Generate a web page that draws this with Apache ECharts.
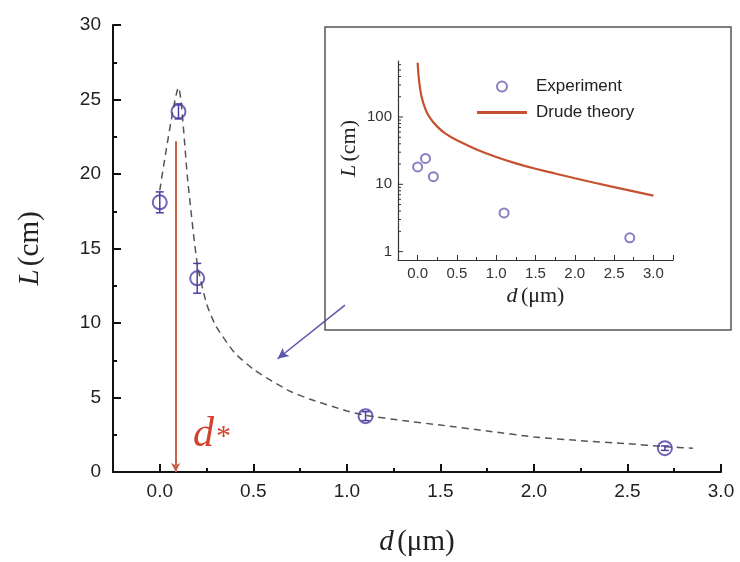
<!DOCTYPE html>
<html><head><meta charset="utf-8">
<script src="https://cdn.jsdelivr.net/npm/echarts@6/dist/echarts.min.js"></script>
<style>html,body{margin:0;padding:0;background:#fff}#c{width:740px;height:562px}</style>
</head><body><div id="c"></div>
<script>
// ---- data ----
const expD   = [0.0, 0.1, 0.2, 1.1, 2.7];
const expL   = [18.1, 24.2, 13.0, 3.75, 1.6];
const expErr = [0.7, 0.5, 1.0, 0.3, 0.15];

const fitD = [0.0, 0.1, 0.15, 0.2, 0.25, 0.3, 0.4, 0.5, 0.6, 0.7, 0.8, 1.0, 1.1, 1.3, 1.5, 1.75, 2.0, 2.25, 2.5, 2.7, 2.85];
const fitL = [18.9, 25.8, 19.5, 14.0, 11.3, 9.8, 8.0, 6.9, 6.1, 5.4, 4.9, 4.1, 3.8, 3.45, 3.15, 2.75, 2.35, 2.1, 1.9, 1.7, 1.6];

const drudeD = [0.0, 0.02, 0.05, 0.1, 0.15, 0.25, 0.35, 0.5, 0.75, 1.0, 1.25, 1.5, 1.75, 2.0, 2.5, 3.0];
const drudeL = [640, 330, 200, 130, 100, 72, 57, 45, 33, 25.5, 20.5, 17, 14.5, 12.3, 9.1, 6.8];

const dStar = 0.085, dStarTop = 22.2;
const pointerFrom = [0.99, 11.2], pointerTo = [0.63, 7.6];

const logMajor = [1, 10, 100];
const logMinor = [2,3,4,5,6,7,8,9,20,30,40,50,60,70,80,90,200,300,400,500,600];

const purple = '#4a3fa0';
const red = '#c5512f';
const serif = 'Liberation Serif';
const sans = 'Liberation Sans';

function errRender(params, api) {
  const x = api.value(0), lo = api.value(1), hi = api.value(2);
  const a = api.coord([x, hi]), b = api.coord([x, lo]);
  const w = 4;
  const st = {stroke: purple, lineWidth: 1.5};
  return {type: 'group', children: [
    {type: 'line', shape: {x1: a[0], y1: a[1], x2: b[0], y2: b[1]}, style: st},
    {type: 'line', shape: {x1: a[0]-w, y1: a[1], x2: a[0]+w, y2: a[1]}, style: st},
    {type: 'line', shape: {x1: b[0]-w, y1: b[1], x2: b[0]+w, y2: b[1]}, style: st}
  ]};
}
function logTickRender(len) {
  return function (params, api) {
    const p = api.coord([-0.25, api.value(1)]);
    return {type: 'line', shape: {x1: p[0], y1: p[1], x2: p[0] + len, y2: p[1]}, style: {stroke: '#333', lineWidth: 1}};
  };
}

const chart = echarts.init(document.getElementById('c'));
chart.setOption({
  backgroundColor: '#fff',
  animation: false,
  graphic: [
    {type: 'rect', shape: {x: 325, y: 27, width: 406, height: 303}, style: {fill: 'transparent', stroke: '#555', lineWidth: 1.5}, z: 0},
    {type: 'text', left: 193, top: 414, style: {text: 'd', font: 'italic 42px "Liberation Serif"', fill: '#d2432f'}},
    {type: 'text', left: 216, top: 422, style: {text: '*', font: '30px "Liberation Serif"', fill: '#d2432f'}}
  ],
  legend: {
    orient: 'vertical', left: 472, top: 73, itemWidth: 50, itemHeight: 10, itemGap: 9,
    data: [{name: 'Experiment'}, {name: 'Drude theory', icon: 'path://M0,0H50V3H0Z', itemStyle: {color: red}}],
    textStyle: {fontFamily: sans, fontSize: 17, color: '#222', padding: [0, 0, 0, 4]}
  },
  grid: [
    {left: 113, top: 25, right: 19, bottom: 87},
    {left: 398, top: 61, width: 275, bottom: 302}
  ],
  xAxis: [
    {gridIndex: 0, type: 'value', position: 'bottom', min: -0.25, max: 3.0, interval: 0.25,
     axisLine: {onZero: false, lineStyle: {color: '#111', width: 2}},
     axisTick: {inside: true, length: 4, lineStyle: {color: '#111', width: 2}},
     axisLabel: {margin: 10, fontFamily: sans, fontSize: 19, color: '#222',
       formatter: v => (Math.abs(v * 2 - Math.round(v * 2)) < 1e-6 && v >= 0) ? v.toFixed(1) : ''},
     splitLine: {show: false},
     name: '{i|d} {n|(μm)}', nameLocation: 'middle', nameGap: 56,
     nameTextStyle: {rich: {i: {fontFamily: serif, fontStyle: 'italic', fontSize: 29, color: '#222'}, n: {fontFamily: serif, fontSize: 29, color: '#222'}}}},
    {gridIndex: 1, type: 'value', position: 'bottom', min: -0.25, max: 3.25, interval: 0.25,
     axisLine: {onZero: false, lineStyle: {color: '#333', width: 1.2}},
     axisTick: {inside: true, length: 3, lineStyle: {color: '#333'}},
     axisLabel: {margin: 6, fontFamily: sans, fontSize: 15, color: '#333',
       formatter: v => (Math.abs(v * 2 - Math.round(v * 2)) < 1e-6 && v >= 0 && v <= 3) ? v.toFixed(1) : ''},
     splitLine: {show: false},
     name: '{i|d} {n|(μm)}', nameLocation: 'middle', nameGap: 25,
     nameTextStyle: {rich: {i: {fontFamily: serif, fontStyle: 'italic', fontSize: 22, color: '#222'}, n: {fontFamily: serif, fontSize: 22, color: '#222'}}}},
    {gridIndex: 0, type: 'value', position: 'bottom', min: -0.25, max: 3.0, splitNumber: 7,
     axisLine: {show: false, onZero: false}, axisLabel: {show: false}, splitLine: {show: false},
     axisTick: {inside: true, length: 8, lineStyle: {color: '#111', width: 2}}},
    {gridIndex: 1, type: 'value', position: 'bottom', min: -0.25, max: 3.25, splitNumber: 7,
     axisLine: {show: false, onZero: false}, axisLabel: {show: false}, splitLine: {show: false},
     axisTick: {inside: true, length: 5, lineStyle: {color: '#333'}}}
  ],
  yAxis: [
    {gridIndex: 0, type: 'value', position: 'left', min: 0, max: 30, interval: 5,
     axisLine: {show: true, onZero: false, lineStyle: {color: '#111', width: 2}},
     axisTick: {show: true, inside: true, length: 8, lineStyle: {color: '#111', width: 2}},
     minorTick: {show: true, splitNumber: 2, length: 4, lineStyle: {color: '#111', width: 2}},
     axisLabel: {margin: 12, fontFamily: sans, fontSize: 19, color: '#222'},
     splitLine: {show: false},
     name: '{i|L} {n|(cm)}', nameLocation: 'middle', nameGap: 68,
     nameTextStyle: {rich: {i: {fontFamily: serif, fontStyle: 'italic', fontSize: 29, color: '#222'}, n: {fontFamily: serif, fontSize: 29, color: '#222'}}}},
    {gridIndex: 1, type: 'log', logBase: 10, position: 'left', min: 0.75, max: 680,
     axisLine: {show: true, onZero: false, lineStyle: {color: '#333', width: 1.2}},
     axisTick: {show: false},
     axisLabel: {margin: 6, fontFamily: sans, fontSize: 15, color: '#333', showMinLabel: false, showMaxLabel: false,
       formatter: v => logMajor.some(m => Math.abs(m - v) < 1e-6 * m) ? String(Math.round(v)) : ''},
     splitLine: {show: false},
     name: '{i|L} {n|(cm)}', nameLocation: 'middle', nameGap: 38,
     nameTextStyle: {padding: [0, 0, 0, 24], rich: {i: {fontFamily: serif, fontStyle: 'italic', fontSize: 22, color: '#222'}, n: {fontFamily: serif, fontSize: 22, color: '#222'}}}}
  ],
  series: [
    {name: 'fit', type: 'line', xAxisIndex: 0, yAxisIndex: 0, data: fitD.map((d, i) => [d, fitL[i]]),
     symbol: 'none', smooth: 0.2, lineStyle: {color: '#555', width: 1.5, type: [7, 5]}, z: 2,
     markLine: {silent: true, animation: false, label: {show: false},
       data: [
         [{coord: [dStar, dStarTop], symbol: 'none', lineStyle: {color: '#c8624c', width: 2, type: 'solid'}},
          {coord: [dStar, 0], symbol: 'arrow', symbolSize: [7, 9]}],
         [{coord: pointerFrom, symbol: 'none', lineStyle: {color: '#5a55aa', width: 1.5, type: 'solid'}},
          {coord: pointerTo, symbol: 'arrow', symbolSize: [8, 11]}]
       ]}},
    {name: 'err', type: 'custom', xAxisIndex: 0, yAxisIndex: 0,
     data: expD.map((d, i) => [d, expL[i] - expErr[i], expL[i] + expErr[i]]),
     renderItem: errRender, z: 4},
    {name: 'exp main', type: 'scatter', xAxisIndex: 0, yAxisIndex: 0, data: expD.map((d, i) => [d, expL[i]]),
     symbol: 'circle', symbolSize: 14, itemStyle: {color: 'rgba(0,0,0,0)', borderColor: purple, borderWidth: 2}, z: 5},
    {name: 'Drude theory', type: 'line', xAxisIndex: 1, yAxisIndex: 1, data: drudeD.map((d, i) => [d, drudeL[i]]),
     symbol: 'none', smooth: 0.4, lineStyle: {color: red, width: 2.2}, itemStyle: {color: red}},
    {name: 'Experiment', type: 'scatter', xAxisIndex: 1, yAxisIndex: 1, data: expD.map((d, i) => [d, expL[i]]),
     symbol: 'emptyCircle', symbolSize: 9, itemStyle: {color: '#6a5fb2', borderColor: '#6a5fb2', borderWidth: 1.5}},
    {name: 'ticksMajor', type: 'custom', xAxisIndex: 1, yAxisIndex: 1, data: logMajor.map(v => [-0.25, v]),
     renderItem: logTickRender(5), clip: false, silent: true},
    {name: 'ticksMinor', type: 'custom', xAxisIndex: 1, yAxisIndex: 1, data: logMinor.map(v => [-0.25, v]),
     renderItem: logTickRender(3), clip: false, silent: true}
  ]
});
</script>
</body></html>
